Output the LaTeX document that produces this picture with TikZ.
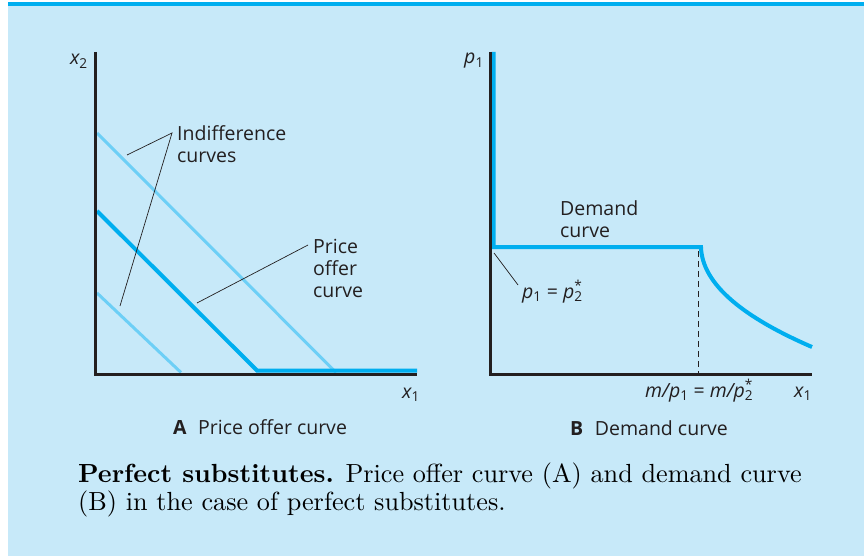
\documentclass[tikz,border=0pt]{standalone}
\usepackage{fontspec}
\newfontfamily\labelfont{Open Sans}
\newfontfamily\capfont{lmroman10-regular.otf}[BoldFont=lmroman10-bold.otf]
\definecolor{panelbg}{RGB}{199,233,249}
\definecolor{topbar}{RGB}{0,174,239}
\definecolor{darkcurve}{RGB}{0,174,239}
\definecolor{lightcurve}{RGB}{109,207,246}
\definecolor{axisink}{RGB}{35,31,32}
\newcommand{\vsub}[2]{{\itshape #1}\textsubscript{#2}}
\newcommand{\vstar}[2]{{\itshape #1}\rlap{\textsuperscript{*}}\textsubscript{#2}}

\begin{document}
\begin{tikzpicture}[x=1pt,y=-1pt,
  lab/.style={font=\labelfont\fontsize{19.5}{22}\selectfont, text=axisink, inner sep=0pt, align=left},
  axisline/.style={line width=3pt, draw=axisink},
  dark/.style={line width=4pt, draw=darkcurve},
  light/.style={line width=3pt, draw=lightcurve},
  leader/.style={line width=0.7pt, draw=axisink},
  dashline/.style={line width=0.8pt, draw=axisink, dash pattern=on 6pt off 4pt}]
\useasboundingbox (0,0) rectangle (864,556);
\fill[panelbg] (8,6) rectangle (864,556);
\fill[topbar] (8,2) rectangle (864,6);
% A: price offer curve
\draw[light] (97,133) -- (336,372.5);
\draw[light] (97,293) -- (181,372.5);
\draw[dark] (97,211) -- (257,370.5) -- (417,370.5);
\draw[axisline] (95.5,52) -- (95.5,374) -- (417,374);
\node[lab, anchor=base east] (xtwo) at (88,65) {\vsub{x}{2}};
\node[lab, anchor=base west] (xone) at (402,398) {\vsub{x}{1}};
\node[lab, anchor=north west] (indiff) at (177,125.5) {Indifference\\curves};
\node[lab, anchor=north west] (offer) at (313,238.5) {Price\\offer\\curve};
\coordinate (indtip) at (172,133);
\coordinate (indtop) at (127,155);
\coordinate (indlow) at (120,306);
\coordinate (offtip) at (308,245);
\coordinate (offend) at (197,303);
\draw[leader] (indtop) -- (indtip) -- (indlow);
\draw[leader] (offtip) -- (offend);
\node[lab, anchor=base] (capA) at (260,434) {\textbf{A}\hspace{0.6em}Price offer curve};
% B: demand curve
\draw[dashline] (698,251) -- (698,374);
\draw[dark] (493.5,52) -- (493.5,247) -- (701,247)
  .. controls (702,285) and (745,318) .. (812,347);
\draw[axisline] (490,52) -- (490,374) -- (812,374);
\node[lab, anchor=base east] (pone) at (484,64) {\vsub{p}{1}};
\node[lab, anchor=north west] (demand) at (560,200.5) {Demand\\curve};
\node[lab, anchor=base west] (pstar) at (522,298) {\vsub{p}{1} = \vstar{p}{2}};
\coordinate (kink) at (494,253);
\coordinate (pend) at (518,285);
\draw[leader] (kink) -- (pend);
\node[lab, anchor=base west] (mratio) at (645,397) {{\itshape m/}\vsub{p}{1} = {\itshape m/}\vstar{p}{2}};
\node[lab, anchor=base west] (xoneB) at (794,397) {\vsub{x}{1}};
\node[lab, anchor=base] (capB) at (649,435) {\textbf{B}\hspace{0.6em}Demand curve};
% caption
\node[anchor=north west, inner sep=0pt, align=left, font=\capfont\fontsize{26.2}{28}\selectfont] (caption) at (78,462.4)
  {\textbf{Perfect substitutes.} Price offer curve (A) and demand curve\\(B) in the case of perfect substitutes.};
\end{tikzpicture}
\end{document}
